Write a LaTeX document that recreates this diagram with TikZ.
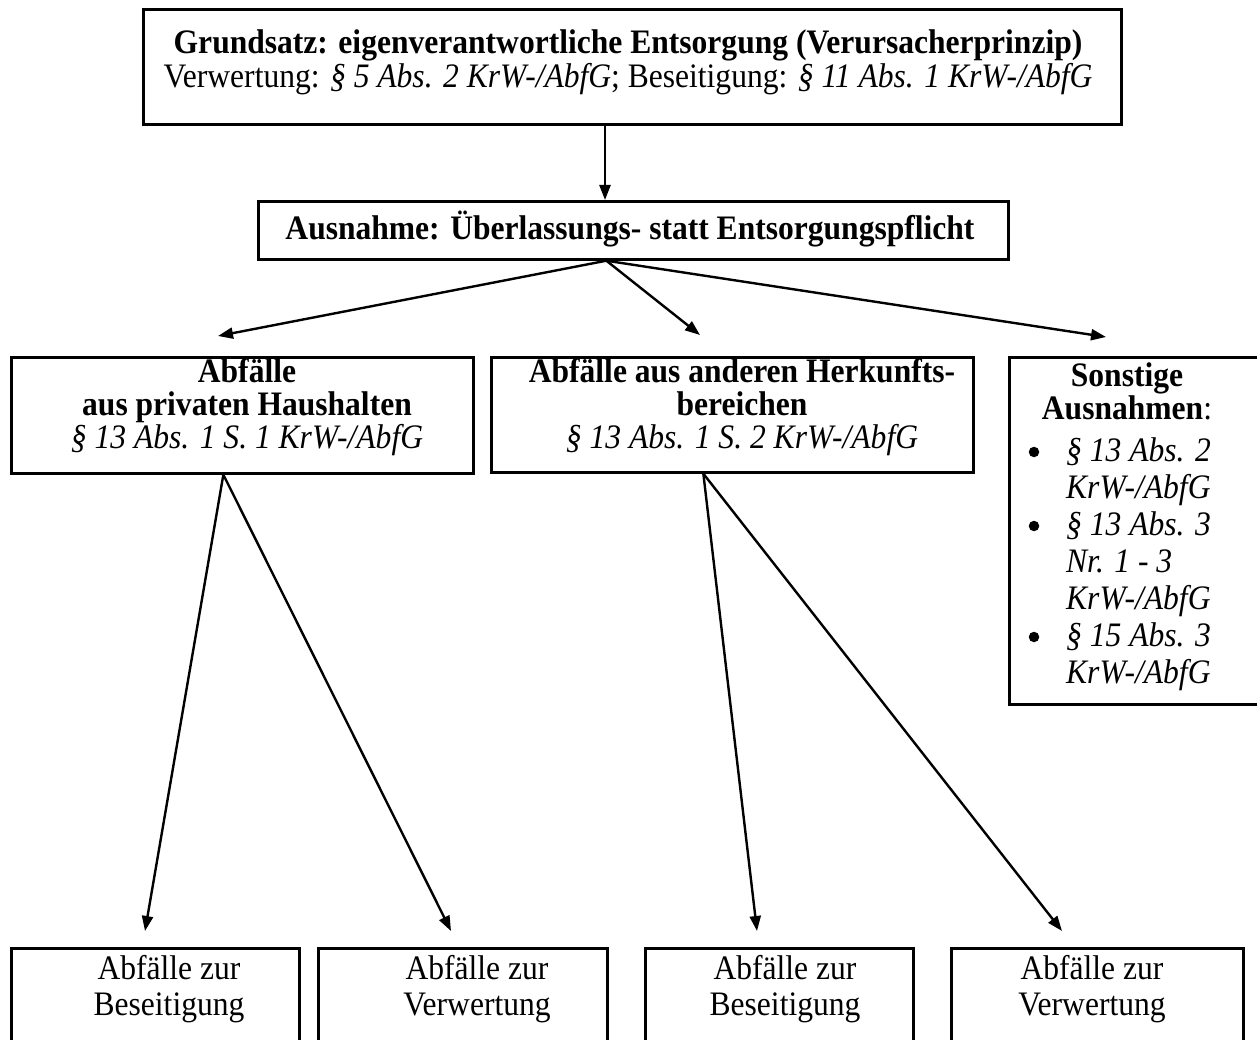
\documentclass[tikz,border=0pt]{standalone}
\usepackage{fontspec}
\setmainfont{Liberation Serif}
\usetikzlibrary{arrows.meta}
\begin{document}
\begin{tikzpicture}[x=1pt,y=-1pt,
  box/.style={draw, line width=2.7pt, inner sep=0pt, anchor=north west},
  txt/.style={font=\fontsize{34.3}{33}\selectfont, align=center, inner sep=0pt, xscale=0.92, transform shape},
  txtt/.style={font=\fontsize{34.3}{34}\selectfont, align=center, inner sep=0pt, xscale=0.92, transform shape},
  txtw/.style={font=\fontsize{34.3}{36}\selectfont, align=center, inner sep=0pt, xscale=0.92, transform shape},
  lst/.style={font=\fontsize{34.3}{37}\selectfont\itshape, align=left, inner sep=0pt, anchor=north west, xscale=0.92, transform shape},
  bul/.style={circle, fill, inner sep=0pt, minimum size=10.5pt},
  arr/.style={line width=2.4pt, -{Triangle[length=15pt,width=11pt]}}]
\useasboundingbox (0,0) rectangle (1257,1040);
% boxes
\node[box, minimum width=978pt, minimum height=115pt] (top) at (142,8) {};
\node[box, minimum width=750pt, minimum height=58pt] (aus) at (257,200) {};
\node[box, minimum width=462pt, minimum height=116pt] (priv) at (10,356) {};
\node[box, minimum width=482pt, minimum height=115pt] (and) at (490,356) {};
\node[box, minimum width=260pt, minimum height=347pt] (sonst) at (1008,356) {};
\node[box, minimum width=288pt, minimum height=110pt] (b1) at (10,947) {};
\node[box, minimum width=289pt, minimum height=110pt] (b2) at (317,947) {};
\node[box, minimum width=268pt, minimum height=110pt] (b3) at (644,947) {};
\node[box, minimum width=292pt, minimum height=110pt] (b4) at (950,947) {};
% texts
\node[txtt] (ttop) at (628,62) {\textbf{Grundsatz: eigenverantwortliche Entsorgung (Verursacherprinzip)}\\
  Verwertung: \textit{§ 5 Abs. 2 KrW-/AbfG}; Beseitigung: \textit{§ 11 Abs. 1 KrW-/AbfG}};
\node[txt] (taus) at (630,229) {\textbf{Ausnahme: Überlassungs- statt Entsorgungspflicht}};
\node[txt] (tpriv) at (247,407) {\textbf{Abfälle}\\\textbf{aus privaten Haushalten}\\\textit{§ 13 Abs. 1 S. 1 KrW-/AbfG}};
\node[txt] (tand) at (742,407) {\textbf{Abfälle aus anderen Herkunfts-}\\\textbf{bereichen}\\\textit{§ 13 Abs. 1 S. 2 KrW-/AbfG}};
\node[txt] (tsonst) at (1127,391) {\textbf{Sonstige}\\\textbf{Ausnahmen}:};
\node[lst] (tlist) at (1066,437) {§ 13 Abs. 2\\KrW-/AbfG\\§ 13 Abs. 3\\Nr. 1 - 3\\KrW-/AbfG\\§ 15 Abs. 3\\KrW-/AbfG};
\node[bul] (bu1) at (1034,452) {};
\node[bul] (bu2) at (1034,526) {};
\node[bul] (bu3) at (1034,637) {};
\node[txtw] (tb1) at (169,989) {Abfälle zur\\Beseitigung};
\node[txtw] (tb2) at (477,989) {Abfälle zur\\Verwertung};
\node[txtw] (tb3) at (785,989) {Abfälle zur\\Beseitigung};
\node[txtw] (tb4) at (1092,989) {Abfälle zur\\Verwertung};
% arrow end points
\coordinate (e0) at (605,200);
\coordinate (e1) at (218,336);
\coordinate (e2) at (700,335);
\coordinate (e3) at (1106,337);
\coordinate (e4) at (145,931);
\coordinate (e5) at (451,931);
\coordinate (e6) at (757,931);
\coordinate (e7) at (1062,931);
% connectors
\draw[arr] (top.south -| e0) -- (e0);
\draw[arr] ([xshift=-27pt]aus.south) -- (e1);
\draw[arr] ([xshift=-27pt]aus.south) -- (e2);
\draw[arr] ([xshift=-27pt]aus.south) -- (e3);
\draw[arr] ([xshift=-19pt]priv.south) -- (e4);
\draw[arr] ([xshift=-19pt]priv.south) -- (e5);
\draw[arr] ([xshift=-29pt]and.south) -- (e6);
\draw[arr] ([xshift=-29pt]and.south) -- (e7);
\end{tikzpicture}
\end{document}
